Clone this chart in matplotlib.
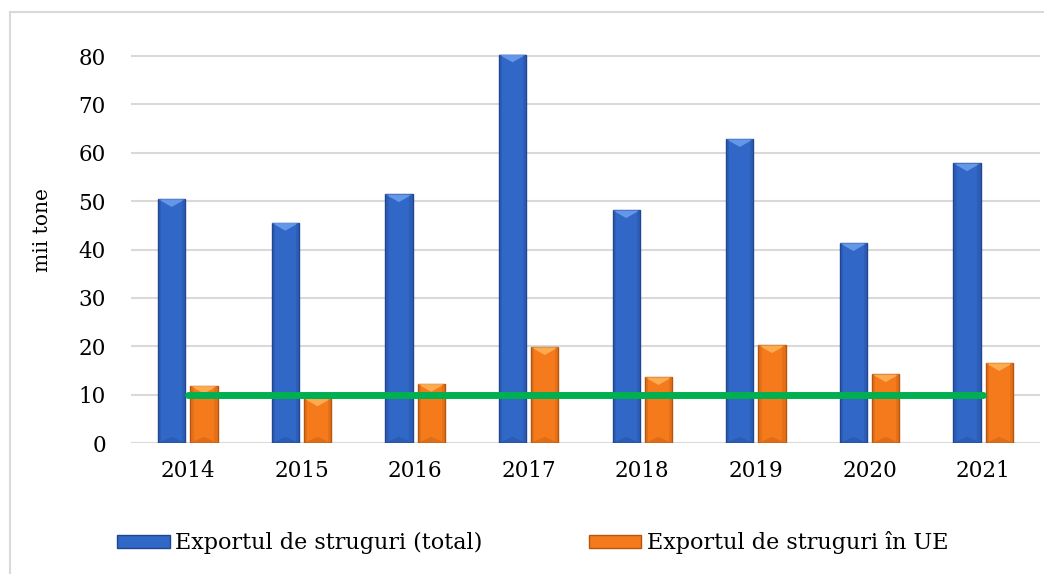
import matplotlib
matplotlib.use("Agg")
import matplotlib.pyplot as plt
import numpy as np
from matplotlib.patches import Polygon, Rectangle
from matplotlib.lines import Line2D

years = ["2014", "2015", "2016", "2017", "2018", "2019", "2020", "2021"]
total = [50.4, 45.5, 51.4, 80.3, 48.1, 62.8, 41.3, 57.8]
ue = [11.8, 9.2, 12.2, 19.8, 13.6, 20.2, 14.2, 16.5]
threshold = [10, 10, 10, 10, 10, 10, 10, 10]

series_names = ["Exportul de struguri (total)", "Exportul de struguri în UE"]
blue, blue_edge, blue_light = "#3167C6", "#21468F", "#6FA0F0"
orange, orange_edge, orange_light = "#F57A1C", "#B5560F", "#FFB45A"
green = "#00B050"

W, H = 1044, 574
fig = plt.figure(figsize=(W / 100, H / 100), dpi=100)
ax = fig.add_axes([131 / W, 1 - 443 / H, (1040 - 131) / W, (443 - 53.6) / H])

x = np.arange(len(years))
bw = 0.24
off = 0.142

def draw_bars(xs, vals, fc, ec, lc):
    bars = ax.bar(xs, vals, width=bw, color=fc, edgecolor=ec, linewidth=1.0, zorder=3)
    for b in bars:
        x0, y0 = b.get_x(), b.get_y()
        w, h = b.get_width(), b.get_height()
        tri_h = 1.6
        ax.add_patch(Polygon([[x0, y0 + h], [x0 + w, y0 + h], [x0 + w / 2, y0 + h - tri_h]],
                             closed=True, facecolor=lc, edgecolor="none", alpha=0.85, zorder=4))
        ax.add_patch(Polygon([[x0, y0], [x0 + w, y0], [x0 + w / 2, y0 + tri_h * 0.8]],
                             closed=True, facecolor=ec, edgecolor="none", alpha=0.35, zorder=4))
        ax.add_patch(Rectangle((x0, y0), w * 0.12, h, facecolor=ec, edgecolor="none",
                               alpha=0.25, zorder=4))
        ax.add_patch(Rectangle((x0 + w * 0.88, y0), w * 0.12, h, facecolor=ec, edgecolor="none",
                               alpha=0.25, zorder=4))
    return bars

draw_bars(x - off, total, blue, blue_edge, blue_light)
draw_bars(x + off, ue, orange, orange_edge, orange_light)
ax.plot(x, threshold, color=green, linewidth=5, solid_capstyle="round", zorder=5)

ax.set_xlim(-0.5, len(years) - 0.5)
ax.set_ylim(0, 80.5)
ax.set_yticks(np.arange(0, 81, 10))
ax.set_xticks(x)
ax.set_xticklabels(years)
ax.yaxis.grid(True, color="#D9D9D9", linewidth=1.5, zorder=0)
ax.set_axisbelow(True)
for s in ax.spines.values():
    s.set_visible(False)
ax.tick_params(axis="both", length=0, labelsize=15.5, colors="#000000")
ax.tick_params(axis="y", pad=18)
ax.tick_params(axis="x", pad=12)
for lab in ax.get_xticklabels() + ax.get_yticklabels():
    lab.set_family("DejaVu Serif")

fig.text(42 / W, 1 - 230 / H, "mii tone", rotation=90, ha="center", va="center",
         fontsize=14.5, family="DejaVu Serif")

handles = [Rectangle((0, 0), 1, 1, facecolor=blue, edgecolor=blue_edge),
           Rectangle((0, 0), 1, 1, facecolor=orange, edgecolor=orange_edge)]
leg = fig.legend(handles, series_names, loc="center", bbox_to_anchor=(533 / W, 1 - 543 / H),
                 ncol=2, frameon=False, handlelength=2.35, handleheight=0.55,
                 handletextpad=0.25, columnspacing=4.8,
                 prop={"family": "DejaVu Serif", "size": 16})

fig.add_artist(Line2D([10 / W, 10 / W], [0, 1 - 12 / H], color="#D9D9D9", linewidth=1.5,
                      transform=fig.transFigure))
fig.add_artist(Line2D([10 / W, 1], [1 - 12 / H, 1 - 12 / H], color="#D9D9D9", linewidth=1.5,
                      transform=fig.transFigure))

fig.savefig("out.png", dpi=100)
